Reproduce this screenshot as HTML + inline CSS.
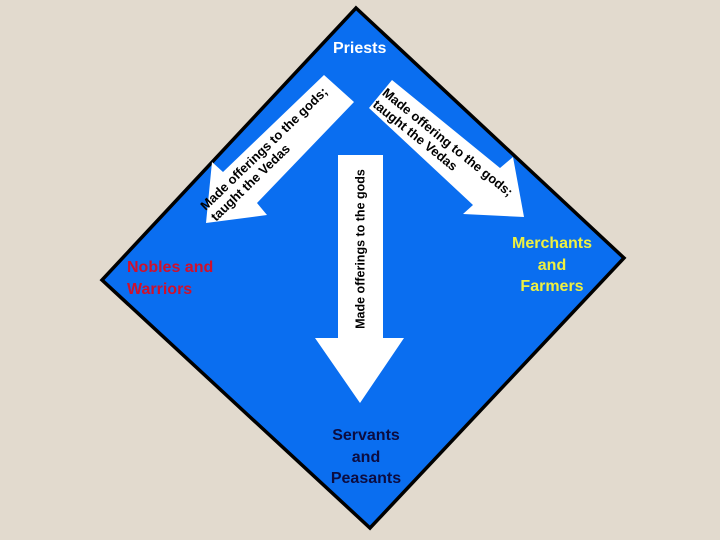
<!DOCTYPE html>
<html><head><style>
body{margin:0;width:720px;height:540px;background:#e2dace;position:relative;overflow:hidden;font-family:"Liberation Sans",sans-serif;font-weight:bold}
.t{position:absolute;white-space:nowrap}
.r{position:absolute;transform:translate(-50%,-50%);white-space:nowrap;font-size:13px;line-height:15px;color:#000}
</style></head><body>
<svg width="720" height="540" style="position:absolute;left:0;top:0">
<polygon points="356,8 624,258 370,528 102,280" fill="#0a6ef0" stroke="#000" stroke-width="3.5" stroke-linejoin="miter"/>
<polygon points="338,155 383,155 383,338 404,338 360,403 315,338 338,338" fill="#fff"/>
<polygon points="324,75 354,102 257,203 267,215 206,223 212,162 223,172" fill="#fff"/>
<polygon points="392,80 500,168 513,157 524,217 463,214 473,205 369,108" fill="#fff"/>
</svg>
<div class="t" style="left:333px;top:40px;font-size:16px;color:#fff">Priests</div>
<div class="r" style="left:269px;top:154px;transform:translate(-50%,-50%) rotate(-44deg)">Made offerings to the gods;<br>taught the Vedas</div>
<div class="r" style="left:443px;top:148px;transform:translate(-50%,-50%) rotate(39deg)">Made offering to the gods;<br>taught the Vedas</div>
<div class="r" style="left:361px;top:249px;font-size:12.5px;transform:translate(-50%,-50%) rotate(-90deg)">Made offerings to the gods</div>
<div class="t" style="left:127px;top:257px;font-size:16px;line-height:22px;color:#d0102c">Nobles and<br>Warriors</div>
<div class="t" style="left:502px;top:233px;width:100px;text-align:center;font-size:16px;line-height:21.5px;color:#eef040">Merchants<br>and<br>Farmers</div>
<div class="t" style="left:316px;top:425px;width:100px;text-align:center;font-size:16px;line-height:21.5px;color:#0c0c40">Servants<br>and<br>Peasants</div>
</body></html>
